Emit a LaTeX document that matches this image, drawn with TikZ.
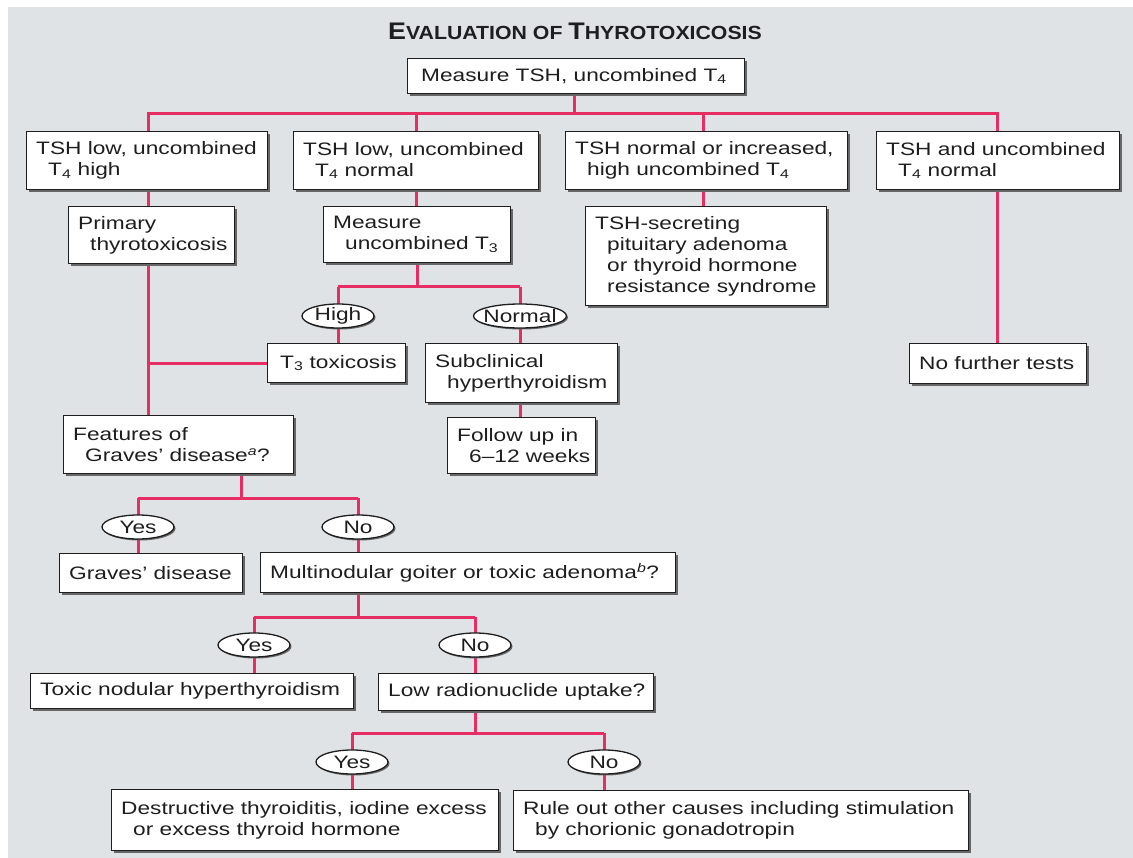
\documentclass[tikz,border=0pt]{standalone}
\usepackage{fontspec}
\setmainfont{Liberation Sans}[FakeStretch=1.26]
\newfontfamily\titlefont{Liberation Sans}[FakeStretch=1.12]
\usetikzlibrary{shapes.geometric,shadows}
\pgfdeclarelayer{back}
\pgfdeclarelayer{lines}
\pgfsetlayers{back,lines,main}
\definecolor{bggray}{RGB}{223,227,230}
\definecolor{linkpink}{RGB}{230,45,100}
\definecolor{ink}{RGB}{30,30,30}
\tikzset{
  box/.style={rectangle, draw=ink, line width=1.1pt, fill=white, inner sep=0pt,
    general shadow={shadow xshift=2.5pt, shadow yshift=-2.5pt, fill=black!60}},
  txt/.style={align=left, inner sep=0pt, text=ink, font=\fontsize{18}{21}\selectfont},
  lbl/.style={ellipse, draw=ink, line width=1.3pt, fill=white, inner sep=0pt,
    minimum width=72pt, minimum height=24pt, text=ink, font=\fontsize{18}{21}\selectfont,
    general shadow={shadow xshift=1.5pt, shadow yshift=-1.5pt, fill=black!60}},
  link/.style={draw=linkpink, line width=3pt},
}
\newcommand{\mybox}[7][10]{%
  \pgfmathsetmacro\bw{#5-#3}\pgfmathsetmacro\bh{#6-#4}%
  \node[box, minimum width=\bw pt, minimum height=\bh pt, anchor=north west] (#2) at (#3,#4) {};%
  \node[txt, anchor=west] (#2-t) at ([xshift=#1pt]#2.west) {#7};}
\begin{document}
\begin{tikzpicture}[x=1pt,y=-1pt]
\useasboundingbox (0,0) rectangle (1133,858);
\begin{pgfonlayer}{back}
  \fill[white] (0,0) rectangle (1133,858);
  \fill[bggray] (8,7) rectangle (1133,858);
\end{pgfonlayer}

\node[font=\titlefont\bfseries, text=ink, inner sep=0pt] (title) at (575,31)
  {{\fontsize{24}{24}\selectfont E}{\fontsize{19}{19}\selectfont VALUATION OF }{\fontsize{24}{24}\selectfont T}{\fontsize{19}{19}\selectfont HYROTOXICOSIS}};

\mybox[14]{top}{407}{58}{744}{93}{Measure TSH, uncombined T\textsubscript{4}}
\mybox{A}{26}{131}{267}{189}{TSH low, uncombined\\\hspace*{12pt}T\textsubscript{4} high}
\mybox{B}{293}{131}{538}{189}{TSH low, uncombined\\\hspace*{12pt}T\textsubscript{4} normal}
\mybox{C}{565}{131}{847}{189}{TSH normal or increased,\\\hspace*{12pt}high uncombined T\textsubscript{4}}
\mybox{D}{876}{131}{1119}{189}{TSH and uncombined\\\hspace*{12pt}T\textsubscript{4} normal}
\mybox{Prim}{68}{206}{234}{263}{Primary\\\hspace*{12pt}thyrotoxicosis}
\mybox{MT3}{323}{206}{510}{262}{Measure\\\hspace*{12pt}uncombined T\textsubscript{3}}
\mybox{TSHsec}{585}{206}{826}{305}{TSH-secreting\\\hspace*{12pt}pituitary adenoma\\\hspace*{12pt}or thyroid hormone\\\hspace*{12pt}resistance syndrome}
\mybox[13]{T3tox}{267}{343}{405}{382}{T\textsubscript{3} toxicosis}
\mybox{Subclin}{425}{343}{617}{402}{Subclinical\\\hspace*{12pt}hyperthyroidism}
\mybox{Follow}{447}{417}{595}{473}{Follow up in\\\hspace*{12pt}6--12 weeks}
\mybox{NoFur}{909}{343}{1086}{383}{No further tests}
\mybox{Feat}{63}{415}{293}{473}{Features of\\\hspace*{12pt}Graves' disease\textsuperscript{\textit{a}}?}
\mybox{Graves}{59}{553}{242}{592}{Graves' disease}
\mybox{Multi}{260}{552}{675}{592}{Multinodular goiter or toxic adenoma\textsuperscript{\textit{b}}?}
\mybox{Toxic}{30}{673}{353}{708}{Toxic nodular hyperthyroidism}
\mybox{LowRad}{378}{673}{653}{710}{Low radionuclide uptake?}
\mybox{Destr}{111}{789}{498}{850}{Destructive thyroiditis, iodine excess\\\hspace*{12pt}or excess thyroid hormone}
\mybox{Rule}{513}{790}{968}{850}{Rule out other causes including stimulation\\\hspace*{12pt}by chorionic gonadotropin}

\node[lbl] (High) at (338,316) {\makebox[0pt]{High}};
\node[lbl, minimum width=93pt] (Normal) at (520,316) {\makebox[0pt]{Normal}};
\node[lbl] (Yes1) at (138,527) {\makebox[0pt]{Yes}};
\node[lbl] (No1) at (358,527) {\makebox[0pt]{No}};
\node[lbl] (Yes2) at (254,645) {\makebox[0pt]{Yes}};
\node[lbl] (No2) at (475,645) {\makebox[0pt]{No}};
\node[lbl] (Yes3) at (352,762) {\makebox[0pt]{Yes}};
\node[lbl] (No3) at (604,762) {\makebox[0pt]{No}};

\coordinate (xT) at (574,0);
\coordinate (xA) at (148,0);
\coordinate (xC) at (703,0);
\coordinate (xD) at (997,0);
\coordinate (xF) at (241,0);
\coordinate (b1) at (0,114);
\coordinate (b2) at (0,287);
\coordinate (b3) at (0,498);
\coordinate (b4) at (0,617);
\coordinate (b5) at (0,733);

\begin{pgfonlayer}{lines}
  \draw[link] (top.south -| xT) -- (xT |- b1);
  \draw[link] (A.north -| xA) -- (xA |- b1) -- (xD |- b1) -- (D.north -| xD);
  \draw[link] (B.north) -- (B.north |- b1);
  \draw[link] (C.north -| xC) -- (xC |- b1);
  \draw[link] (D.south -| xD) -- (NoFur.north -| xD);
  \draw[link] (A.south -| xA) -- (Feat.north -| xA);
  \draw[link] (T3tox.west) -- (T3tox.west -| xA);
  \draw[link] (B.south) -- (B.south |- MT3.north);
  \draw[link] (MT3.south) -- (MT3.south |- b2);
  \draw[link] (High |- b2) -- (Normal |- b2);
  \draw[link] (High |- b2) -- (T3tox.north -| High);
  \draw[link] (Normal |- b2) -- (Follow.north -| Normal);
  \draw[link] (C.south -| xC) -- (TSHsec.north -| xC);
  \draw[link] (Feat.south -| xF) -- (xF |- b3);
  \draw[link] (Yes1 |- b3) -- (No1 |- b3);
  \draw[link] (Yes1 |- b3) -- (Graves.north -| Yes1);
  \draw[link] (No1 |- b3) -- (Multi.north -| No1);
  \draw[link] (Multi.south -| No1) -- (No1 |- b4);
  \draw[link] (Yes2 |- b4) -- (No2 |- b4);
  \draw[link] (Yes2 |- b4) -- (Toxic.north -| Yes2);
  \draw[link] (No2 |- b4) -- (LowRad.north -| No2);
  \draw[link] (LowRad.south -| No2) -- (No2 |- b5);
  \draw[link] (Yes3 |- b5) -- (No3 |- b5);
  \draw[link] (Yes3 |- b5) -- (Destr.north -| Yes3);
  \draw[link] (No3 |- b5) -- (Rule.north -| No3);
\end{pgfonlayer}
\end{tikzpicture}
\end{document}
